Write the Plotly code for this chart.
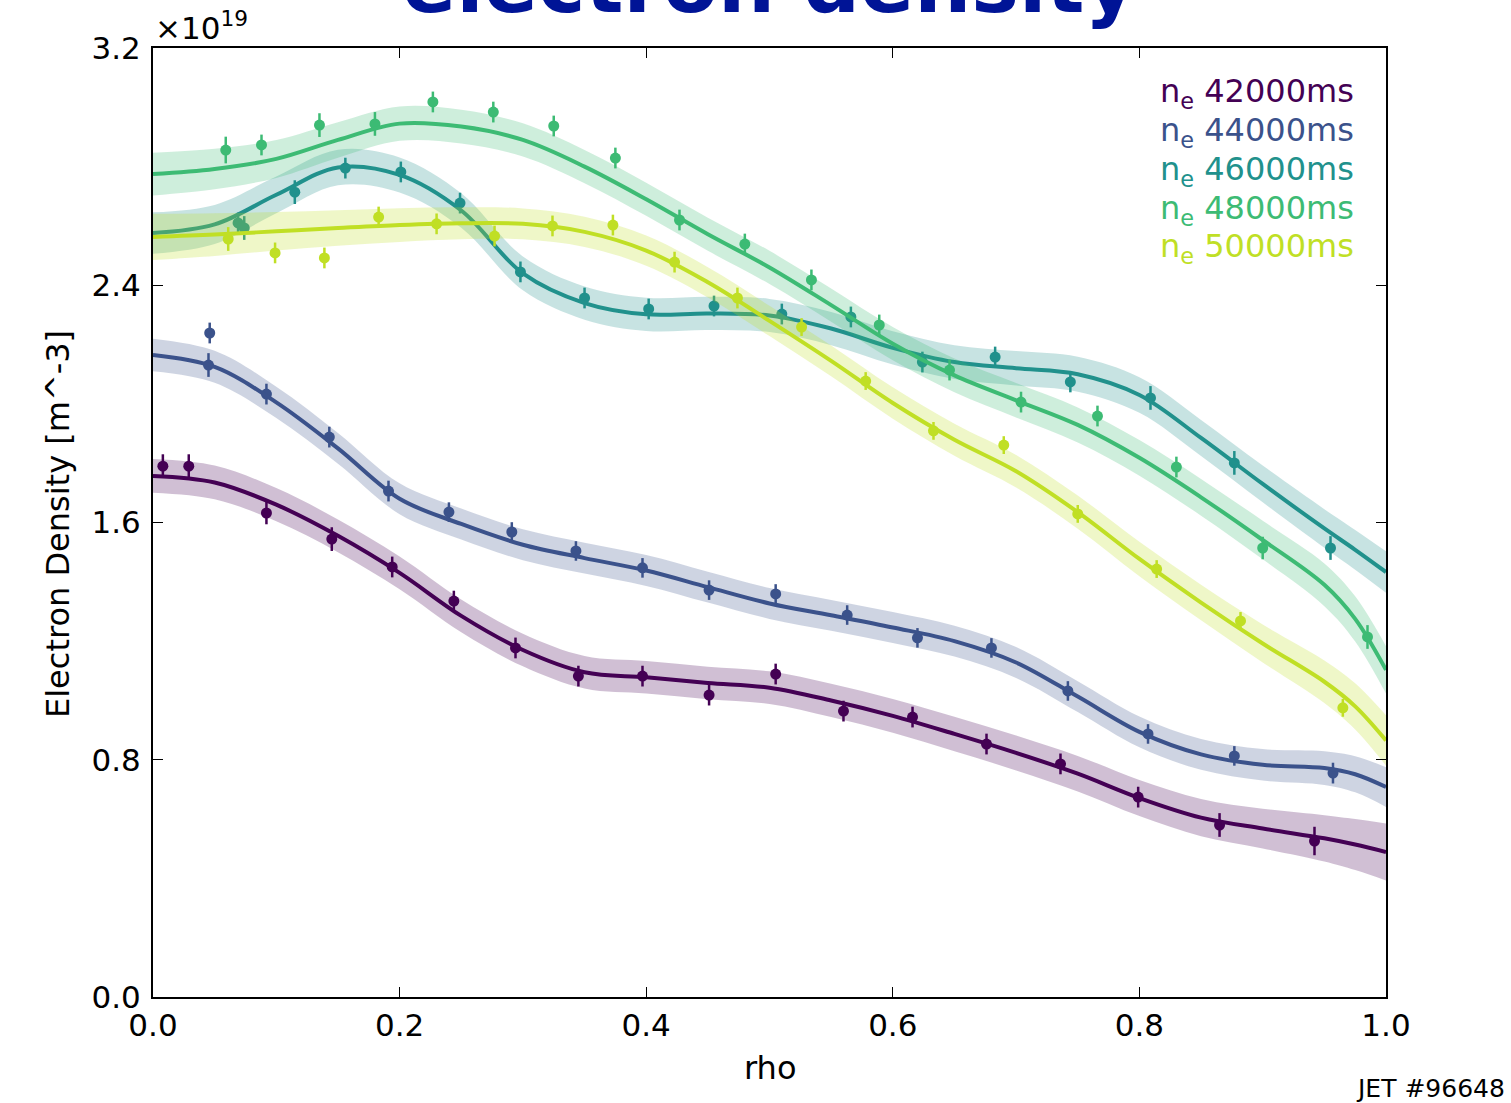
import plotly.graph_objects as go

# Electron density profiles (units of 1e19 m^-3) versus normalised radius rho

times = ["42000", "44000", "46000", "48000", "50000"]
colors = ["#440154", "#3b528b", "#21918c", "#3dbb74", "#c0df25"]

# Fitted profile grid
rho_fit = [0.00, 0.05, 0.10, 0.15, 0.20, 0.25, 0.30, 0.35, 0.40, 0.45, 0.50,
           0.55, 0.60, 0.65, 0.70, 0.75, 0.80, 0.85, 0.90, 0.95, 0.975, 1.00]

fit_42000 = [1.757, 1.735, 1.66, 1.555, 1.43, 1.285, 1.17, 1.095, 1.078, 1.059, 1.043,
             1.00, 0.948, 0.887, 0.823, 0.753, 0.671, 0.605, 0.568, 0.535, 0.514, 0.489]
fit_44000 = [2.165, 2.125, 2.005, 1.85, 1.68, 1.595, 1.525, 1.48, 1.438, 1.382, 1.327,
             1.287, 1.246, 1.2, 1.128, 1.013, 0.894, 0.818, 0.783, 0.772, 0.751, 0.708]
fit_46000 = [2.576, 2.605, 2.705, 2.797, 2.772, 2.652, 2.44, 2.34, 2.302, 2.305, 2.298,
             2.254, 2.189, 2.141, 2.12, 2.10, 2.03, 1.885, 1.73, 1.58, 1.508, 1.433]
fit_48000 = [2.775, 2.792, 2.826, 2.89, 2.945, 2.935, 2.89, 2.80, 2.69, 2.572, 2.46,
             2.333, 2.203, 2.096, 2.012, 1.929, 1.818, 1.685, 1.541, 1.39, 1.275, 1.103]
fit_50000 = [2.563, 2.571, 2.582, 2.593, 2.603, 2.609, 2.607, 2.58, 2.517, 2.41, 2.28,
             2.145, 2.003, 1.879, 1.773, 1.635, 1.477, 1.33, 1.192, 1.063, 0.98, 0.865]

# One-sigma width of each fit
sig_42000 = [0.057, 0.057, 0.056, 0.055, 0.055, 0.055, 0.055, 0.055, 0.055, 0.055, 0.055,
             0.056, 0.057, 0.058, 0.059, 0.060, 0.061, 0.063, 0.067, 0.078, 0.086, 0.096]
sig_44000 = [0.055, 0.054, 0.053, 0.052, 0.052, 0.052, 0.052, 0.052, 0.052, 0.052, 0.052,
             0.052, 0.052, 0.052, 0.052, 0.052, 0.052, 0.052, 0.053, 0.057, 0.061, 0.067]
sig_46000 = [0.070, 0.066, 0.062, 0.060, 0.059, 0.058, 0.057, 0.056, 0.056, 0.056, 0.056,
             0.056, 0.056, 0.057, 0.058, 0.059, 0.060, 0.061, 0.062, 0.065, 0.067, 0.070]
sig_48000 = [0.072, 0.068, 0.064, 0.060, 0.058, 0.057, 0.056, 0.056, 0.056, 0.056, 0.056,
             0.056, 0.056, 0.057, 0.058, 0.059, 0.060, 0.062, 0.065, 0.072, 0.076, 0.080]
sig_50000 = [0.078, 0.072, 0.065, 0.060, 0.057, 0.054, 0.052, 0.051, 0.051, 0.051, 0.051,
             0.052, 0.053, 0.054, 0.055, 0.056, 0.058, 0.060, 0.064, 0.072, 0.078, 0.085]

# Measured points
rho_42000 = [0.008, 0.029, 0.092, 0.145, 0.194, 0.244, 0.294, 0.345, 0.397, 0.451, 0.505,
             0.560, 0.616, 0.676, 0.736, 0.799, 0.865, 0.942]
ne_42000 = [1.790, 1.790, 1.632, 1.544, 1.450, 1.335, 1.177, 1.082, 1.082, 1.018, 1.089,
            0.964, 0.944, 0.853, 0.786, 0.674, 0.580, 0.526]
err_42000 = [0.040, 0.040, 0.038, 0.040, 0.035, 0.035, 0.035, 0.035, 0.035, 0.035, 0.035,
             0.035, 0.035, 0.035, 0.035, 0.035, 0.040, 0.048]

rho_44000 = [0.046, 0.045, 0.092, 0.143, 0.191, 0.240, 0.291, 0.343, 0.397, 0.451, 0.505,
             0.563, 0.620, 0.680, 0.742, 0.807, 0.877, 0.957]
ne_44000 = [2.239, 2.131, 2.033, 1.888, 1.706, 1.635, 1.568, 1.504, 1.447, 1.372, 1.359,
            1.288, 1.211, 1.177, 1.032, 0.887, 0.813, 0.755]
err_44000 = [0.035, 0.040, 0.035, 0.035, 0.035, 0.033, 0.033, 0.033, 0.033, 0.033, 0.033,
             0.033, 0.033, 0.033, 0.033, 0.033, 0.033, 0.035]

rho_46000 = [0.069, 0.074, 0.115, 0.156, 0.201, 0.249, 0.298, 0.350, 0.402, 0.455, 0.510,
             0.566, 0.624, 0.683, 0.744, 0.809, 0.877, 0.955]
ne_46000 = [2.610, 2.593, 2.714, 2.795, 2.782, 2.677, 2.445, 2.357, 2.320, 2.330, 2.303,
            2.293, 2.141, 2.158, 2.074, 2.020, 1.801, 1.514]
err_46000 = [0.035, 0.040, 0.040, 0.035, 0.035, 0.035, 0.035, 0.035, 0.035, 0.035, 0.035,
             0.035, 0.035, 0.035, 0.035, 0.040, 0.040, 0.040]

rho_48000 = [0.059, 0.088, 0.135, 0.180, 0.227, 0.276, 0.325, 0.375, 0.427, 0.480, 0.534,
             0.589, 0.646, 0.704, 0.766, 0.830, 0.900, 0.985]
ne_48000 = [2.856, 2.873, 2.940, 2.944, 3.018, 2.984, 2.937, 2.829, 2.620, 2.539, 2.418,
            2.266, 2.114, 2.006, 1.959, 1.787, 1.514, 1.214]
err_48000 = [0.045, 0.035, 0.040, 0.040, 0.035, 0.035, 0.035, 0.035, 0.035, 0.035, 0.035,
             0.035, 0.035, 0.035, 0.035, 0.035, 0.038, 0.040]

rho_50000 = [0.061, 0.099, 0.139, 0.183, 0.230, 0.277, 0.324, 0.373, 0.423, 0.474, 0.526,
             0.578, 0.633, 0.690, 0.750, 0.814, 0.882, 0.965]
ne_50000 = [2.556, 2.509, 2.492, 2.630, 2.607, 2.566, 2.600, 2.603, 2.478, 2.357, 2.259,
            2.077, 1.909, 1.861, 1.629, 1.443, 1.268, 0.975]
err_50000 = [0.040, 0.035, 0.035, 0.035, 0.035, 0.035, 0.035, 0.035, 0.035, 0.035, 0.030,
             0.030, 0.030, 0.030, 0.030, 0.030, 0.030, 0.030]

fits = [fit_42000, fit_44000, fit_46000, fit_48000, fit_50000]
sigs = [sig_42000, sig_44000, sig_46000, sig_48000, sig_50000]
rhos = [rho_42000, rho_44000, rho_46000, rho_48000, rho_50000]
nes = [ne_42000, ne_44000, ne_46000, ne_48000, ne_50000]
errs = [err_42000, err_44000, err_46000, err_48000, err_50000]

x_ticks = [0.0, 0.2, 0.4, 0.6, 0.8, 1.0]
y_ticks = [0.0, 0.8, 1.6, 2.4, 3.2]

FONT = "DejaVu Sans"


def rgba(hex_color, alpha):
    h = hex_color.lstrip("#")
    r, g, b = int(h[0:2], 16), int(h[2:4], 16), int(h[4:6], 16)
    return f"rgba({r},{g},{b},{alpha})"


fig = go.Figure()

for t, c, fit, sig, rho, ne, err in zip(times, colors, fits, sigs, rhos, nes, errs):
    upper = [f + s for f, s in zip(fit, sig)]
    lower = [f - s for f, s in zip(fit, sig)]
    # measured points with error bars
    fig.add_trace(go.Scatter(
        x=rho, y=ne, mode="markers",
        marker=dict(color=c, size=11, line=dict(width=0)),
        error_y=dict(type="data", array=err, visible=True, color=c, thickness=2.5, width=0),
        showlegend=False, hoverinfo="skip"))
    # uncertainty band
    fig.add_trace(go.Scatter(
        x=rho_fit, y=upper, mode="lines", line=dict(width=0, shape="spline", color=c),
        showlegend=False, hoverinfo="skip"))
    fig.add_trace(go.Scatter(
        x=rho_fit, y=lower, mode="lines", line=dict(width=0, shape="spline", color=c),
        fill="tonexty", fillcolor=rgba(c, 0.25), showlegend=False, hoverinfo="skip"))
    # fitted profile
    fig.add_trace(go.Scatter(
        x=rho_fit, y=fit, mode="lines", line=dict(width=4, shape="spline", color=c),
        showlegend=False, hoverinfo="skip"))

axis_common = dict(
    showgrid=False, zeroline=False, showline=True, linecolor="black", linewidth=2,
    mirror="ticks", ticks="inside", ticklen=10, tickwidth=1.2, tickcolor="black",
    tickfont=dict(family=FONT, size=31, color="black"), tickformat=".1f",
)

fig.update_xaxes(range=[0, 1], tickvals=x_ticks, **axis_common)
fig.update_yaxes(range=[0, 3.2], tickvals=y_ticks, ticklabelstandoff=4, **axis_common)

annotations = []

# Text legend in the top-right corner
legend_y_px = [93, 132, 171, 210, 248]
for t, c, py in zip(times, colors, legend_y_px):
    annotations.append(dict(
        xref="paper", yref="paper", x=(1356 - 153) / 1233, y=(997 - py) / 949,
        xanchor="right", yanchor="middle", showarrow=False,
        text=f"n<sub>e</sub> {t}ms", font=dict(family=FONT, size=32, color=c)))

# Title
annotations.append(dict(
    xref="paper", yref="paper", x=0.5, y=(997 - 33) / 949, xanchor="center", yanchor="bottom",
    showarrow=False, text="<b>electron density</b>",
    font=dict(family=FONT, size=80, color="#001496")))

# Exponent label
annotations.append(dict(
    xref="paper", yref="paper", x=0.0, y=1.0, xanchor="left", yanchor="bottom",
    showarrow=False, text="×10<sup>19</sup>", font=dict(family=FONT, size=31, color="black")))

# Axis titles
annotations.append(dict(
    xref="paper", yref="paper", x=0.5, y=(997 - 1068) / 949, xanchor="center", yanchor="middle",
    showarrow=False, text="rho", font=dict(family=FONT, size=32, color="black")))
annotations.append(dict(
    xref="paper", yref="paper", x=(58 - 153) / 1233, y=(997 - 524) / 949, xanchor="center",
    yanchor="middle", textangle=-90, showarrow=False, text="Electron Density [m^-3]",
    font=dict(family=FONT, size=32, color="black")))

# Shot number
annotations.append(dict(
    xref="paper", yref="paper", x=(1507 - 153) / 1233, y=(997 - 1088) / 949, xanchor="right",
    yanchor="middle", showarrow=False, text="JET #96648",
    font=dict(family=FONT, size=25, color="black")))

fig.update_layout(
    width=1511, height=1103,
    margin=dict(l=153, r=125, t=48, b=106),
    paper_bgcolor="white", plot_bgcolor="white",
    font=dict(family=FONT),
    annotations=annotations,
    showlegend=False,
)

fig.write_html("out.html")
